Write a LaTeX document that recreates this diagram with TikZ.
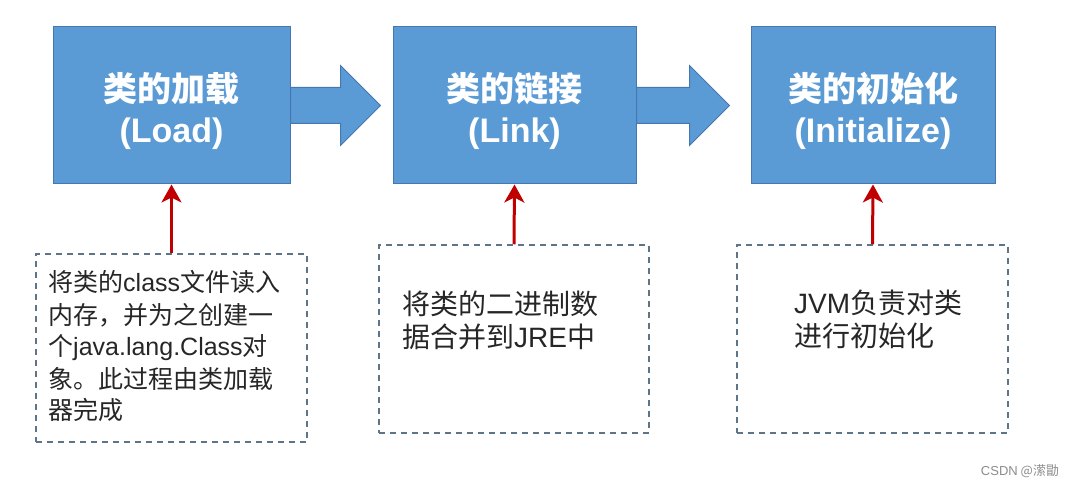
\documentclass[tikz,border=0pt]{standalone}
\usepackage{fontspec}
\setmainfont{Noto Sans CJK SC}
\newfontfamily\arialfont{Liberation Sans}
\usetikzlibrary{arrows.meta}

\definecolor{stageblue}{HTML}{5B9BD5}
\definecolor{stageedge}{HTML}{4677B0}
\definecolor{arrowred}{HTML}{C00000}
\definecolor{noteedge}{HTML}{5E7488}

\begin{document}
\begin{tikzpicture}[
    x=1pt, y=-1pt,
    stage/.style={rectangle, draw=stageedge, fill=stageblue, line width=1pt, minimum height=157pt},
    title/.style={text=white, align=center, font=\fontsize{34}{41}\selectfont\bfseries},
    note/.style={rectangle, draw=noteedge, line width=1.5pt, dash pattern=on 6pt off 5pt, minimum width=271pt, minimum height=188pt},
    notetext/.style={anchor=base west, align=left, inner sep=0pt, text=black!85},
    flow/.style={draw=stageedge, fill=stageblue, line width=1pt, line join=miter},
    feed/.style={draw=arrowred, line width=3pt, -{Stealth[length=18pt, width=20pt, inset=5pt]}}
]
\useasboundingbox (0,0) rectangle (1069,486);

% Stage boxes
\node[stage, minimum width=237pt] (load) at (171.5,105.5) {};
\node[stage, minimum width=243pt] (link) at (514.5,105.5) {};
\node[stage, minimum width=244pt] (init) at (873,105.5) {};

\node[title] (loadtitle) at ([yshift=-5pt]load.center) {类的加载\\{\arialfont (Load)}};
\node[title] (linktitle) at ([yshift=-5pt]link.center) {类的链接\\{\arialfont (Link)}};
\node[title] (inittitle) at ([yshift=-5pt]init.center) {类的初始化\\{\arialfont (Initialize)}};

% Block arrows between stages
\filldraw[flow] ([yshift=18pt]load.east) -- ++(50,0) -- ++(0,-22) -- ++(40,40) -- ++(-40,40) -- ++(0,-22) -- ++(-50,0) -- cycle;
\filldraw[flow] ([yshift=18pt]link.east) -- ++(53,0) -- ++(0,-22) -- ++(40,40) -- ++(-40,40) -- ++(0,-22) -- ++(-53,0) -- cycle;

% Notes (dashed)
\node[note] (loadnote) at (171.5,348) {};
\node[note, minimum width=270pt] (linknote) at (514,339) {};
\node[note] (initnote) at (872.5,339) {};

\node[notetext, font=\fontsize{25}{32}\selectfont] (loadtext) at (48,420) {将类的{\arialfont class}文件读入\\内存，并为之创建一\\个{\arialfont java.lang.Class}对\\象。此过程由类加载\\器完成};
\node[notetext, font=\fontsize{28}{33}\selectfont] (linktext) at (402,348) {将类的二进制数\\据合并到{\arialfont JRE}中};
\node[notetext, font=\fontsize{28}{33}\selectfont] (inittext) at (794,347) {{\arialfont JVM}负责对类\\进行初始化};

% Red arrows up to the stages
\draw[feed] (loadnote.north) -- (load.south);
\draw[feed] (linknote.north) -- (link.south);
\draw[feed] (initnote.north) -- (init.south);

\node[font=\fontsize{13}{13}\selectfont, text=black!45] (mark) at (1020,471) {{\arialfont CSDN} @潆勖};

\end{tikzpicture}
\end{document}
